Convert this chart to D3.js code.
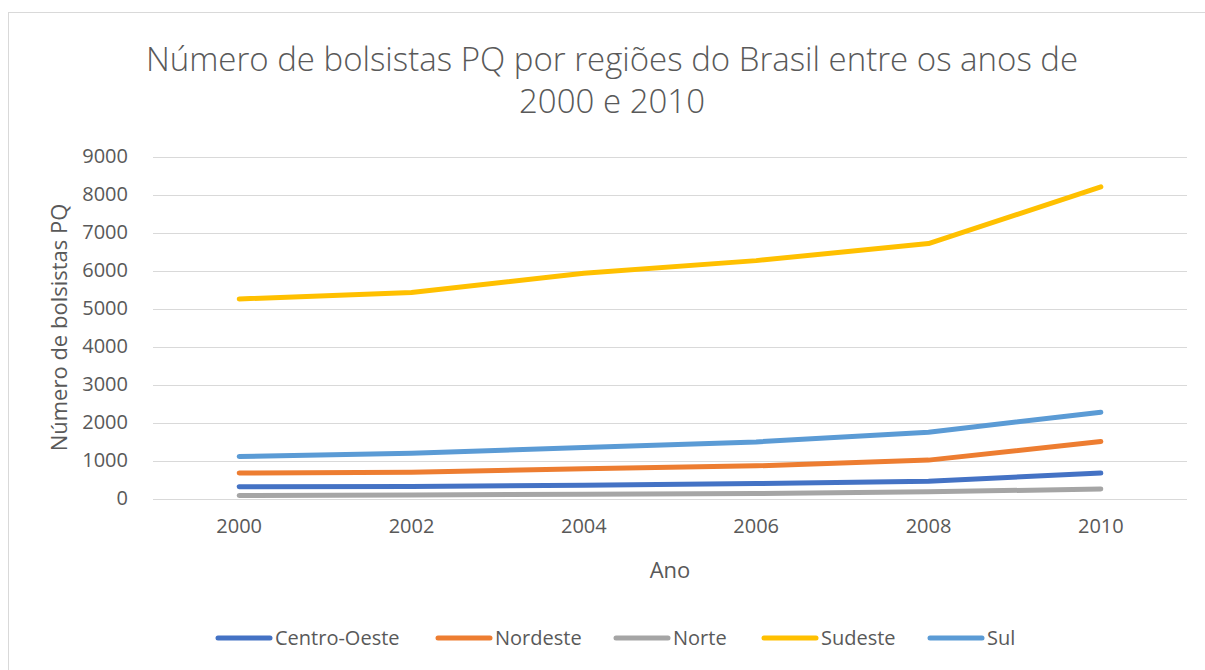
<!DOCTYPE html>
<html>
<head>
<meta charset="utf-8">
<script src="https://cdn.jsdelivr.net/npm/d3@7"></script>
<style>
  body { margin: 0; background: #fff; }
  text { font-family: "Open Sans", "Noto Sans", sans-serif; fill: #595959; }
</style>
</head>
<body>
<svg id="chart" width="1205" height="670"></svg>
<script>
const years = ["2000", "2002", "2004", "2006", "2008", "2010"];
const yTicks = [0, 1000, 2000, 3000, 4000, 5000, 6000, 7000, 8000, 9000];
const regions = ["Centro-Oeste", "Nordeste", "Norte", "Sudeste", "Sul"];
const colors = ["#4472C4", "#ED7D31", "#A5A5A5", "#FFC000", "#5B9BD5"];

const centroOeste = [310, 316, 350, 395, 455, 670];
const nordeste = [670, 690, 780, 860, 1010, 1500];
const norte = [80, 95, 115, 130, 175, 250];
const sudeste = [5250, 5420, 5930, 6260, 6710, 8200];
const sul = [1105, 1190, 1340, 1490, 1745, 2270];
const seriesValues = [centroOeste, nordeste, norte, sudeste, sul];

const svg = d3.select("#chart");

// chart border
svg.append("rect")
  .attr("x", 8.5).attr("y", 12.5)
  .attr("width", 1220).attr("height", 680)
  .attr("fill", "#fff")
  .attr("stroke", "#d9d9d9");

const plot = { left: 153, right: 1187, top: 156.5, bottom: 498.5 };

const x = d3.scaleBand().domain(years).range([plot.left, plot.right]);
const y = d3.scaleLinear().domain([0, 9000]).range([plot.bottom, plot.top]);

// gridlines
svg.append("g")
  .selectAll("line")
  .data(yTicks)
  .join("line")
  .attr("x1", plot.left).attr("x2", plot.right)
  .attr("y1", d => Math.round(y(d)) + 0.5)
  .attr("y2", d => Math.round(y(d)) + 0.5)
  .attr("stroke", "#d9d9d9")
  .attr("stroke-width", 1);

// y axis labels
const yAxis = svg.append("g")
  .attr("transform", `translate(${plot.left - 25},0)`)
  .call(d3.axisLeft(y).tickValues(yTicks).tickSize(0).tickPadding(0).tickFormat(d3.format("d")));
yAxis.select(".domain").remove();
yAxis.selectAll("text")
  .attr("font-size", "20px")
  .attr("font-family", null)
  .attr("fill", "#595959");

// x axis labels
const xAxis = svg.append("g")
  .attr("transform", `translate(0,${plot.bottom + 20})`)
  .call(d3.axisBottom(x).tickSize(0).tickPadding(0));
xAxis.select(".domain").remove();
xAxis.selectAll("text")
  .attr("font-size", "20px")
  .attr("font-family", null)
  .attr("fill", "#595959");

// lines
const line = d3.line()
  .x((d, i) => x(years[i]) + x.bandwidth() / 2)
  .y(d => y(d));

svg.append("g")
  .selectAll("path")
  .data(seriesValues)
  .join("path")
  .attr("d", d => line(d))
  .attr("fill", "none")
  .attr("stroke", (d, i) => colors[i])
  .attr("stroke-width", 5)
  .attr("stroke-linecap", "round")
  .attr("stroke-linejoin", "round");

// title
const title = svg.append("text")
  .attr("text-anchor", "middle")
  .attr("font-size", "33px")
  .attr("font-weight", 300);
title.append("tspan").attr("x", 612).attr("y", 71)
  .text("Número de bolsistas PQ por regiões do Brasil entre os anos de");
title.append("tspan").attr("x", 612).attr("y", 113)
  .text("2000 e 2010");

// axis titles
svg.append("text")
  .attr("transform", `translate(67,${(plot.top + plot.bottom) / 2}) rotate(-90)`)
  .attr("text-anchor", "middle")
  .attr("font-size", "22px")
  .text("Número de bolsistas PQ");

svg.append("text")
  .attr("x", (plot.left + plot.right) / 2)
  .attr("y", 578)
  .attr("text-anchor", "middle")
  .attr("font-size", "22px")
  .text("Ano");

// legend
const legendX = [216, 436, 614, 762, 928];
const legend = svg.append("g")
  .selectAll("g")
  .data(regions)
  .join("g")
  .attr("transform", (d, i) => `translate(${legendX[i]},638)`);
legend.append("line")
  .attr("x1", 2).attr("x2", 54)
  .attr("stroke", (d, i) => colors[i])
  .attr("stroke-width", 5)
  .attr("stroke-linecap", "round");
legend.append("text")
  .attr("x", 59).attr("y", 7)
  .attr("font-size", "20px")
  .text(d => d);
</script>
</body>
</html>
